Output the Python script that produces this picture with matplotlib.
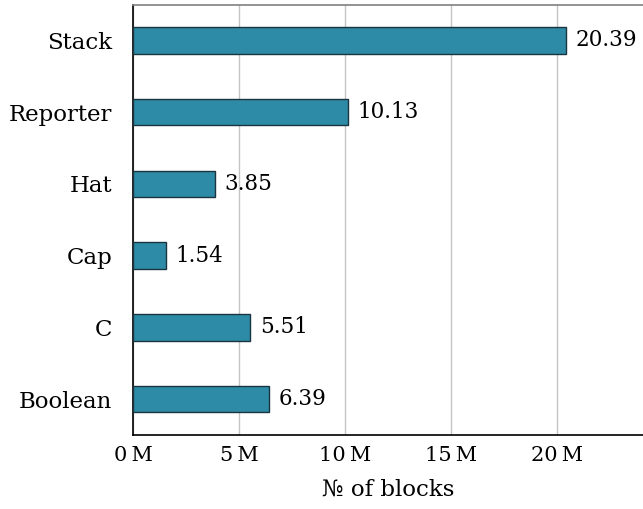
import matplotlib
matplotlib.use("Agg")
import matplotlib.pyplot as plt
import matplotlib.ticker as ticker

# Block counts per shape (millions)
shapes = ["Boolean", "C", "Cap", "Hat", "Reporter", "Stack"]
counts = [6.39, 5.51, 1.54, 3.85, 10.13, 20.39]
x_ticks = [0, 5, 10, 15, 20]

plt.rcParams["font.family"] = ["DejaVu Serif", "DejaVu Sans"]
plt.rcParams["font.size"] = 15

fig = plt.figure(figsize=(6.43, 5.09), dpi=100)
ax = fig.add_axes([133.3 / 643, (509 - 435) / 509, 1 - 133.3 / 643, (435 - 4.5) / 509])

pos = list(range(len(shapes)))
ax.barh(pos, counts, height=0.37, color="#2e8ba8", edgecolor="#1a3440",
        linewidth=1.0, zorder=3)

for p, v in zip(pos, counts):
    ax.annotate(f"{v:.2f}", xy=(v, p), xytext=(7, 0), textcoords="offset points",
                ha="left", va="center", fontsize=15.5)

ax.set_xlim(0, (643 - 133.3) / 21.2)
ax.set_ylim(-0.5, 5.5)
ax.set_yticks(pos)
ax.set_yticklabels(shapes, fontsize=16.5)
ax.xaxis.set_major_locator(ticker.FixedLocator(x_ticks))
ax.xaxis.set_major_formatter(ticker.FuncFormatter(lambda x, _: f"{int(x)}\u2009M"))

ax.tick_params(axis="y", length=0, pad=15)
ax.tick_params(axis="x", length=0, pad=8, labelsize=15)
ax.grid(axis="x", color="#c4c4c4", linewidth=1.0, zorder=0)
ax.set_axisbelow(True)

ax.spines["right"].set_visible(False)
ax.spines["top"].set_color("#808080")
ax.spines["top"].set_linewidth(1.2)
ax.spines["left"].set_linewidth(1.2)
ax.spines["bottom"].set_linewidth(1.2)

ax.set_xlabel("\u2116 of blocks", fontsize=16.5, labelpad=10)

fig.savefig("out.png", dpi=100)
